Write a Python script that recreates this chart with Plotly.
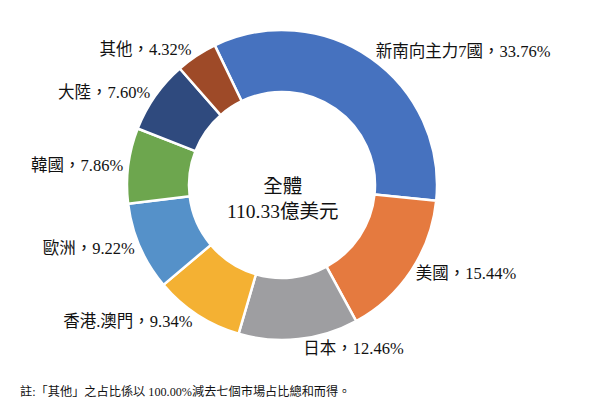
import plotly.graph_objects as go

labels = ["新南向主力7國", "美國", "日本", "香港.澳門", "歐洲", "韓國", "大陸", "其他"]
values = [33.76, 15.44, 12.46, 9.34, 9.22, 7.86, 7.60, 4.32]
colors = ["#4672BF", "#E57A3F", "#9E9EA1", "#F4B133", "#5591C9", "#6DA64E", "#2F4A7E", "#9E4A28"]
center_title = "全體"
center_total = "110.33億美元"
note = "註:「其他」之占比係以 100.00%減去七個市場占比總和而得。"

font_fam = "Liberation Serif, Times New Roman, Noto Sans CJK TC, serif"

W, H = 600, 405
ml, mr, mt, mb = 119, 171, 22, 73
pw, ph = W - ml - mr, H - mt - mb

fig = go.Figure(go.Pie(
    labels=labels,
    values=values,
    sort=False,
    direction="clockwise",
    rotation=-25.7,
    hole=0.6,
    marker=dict(colors=colors, line=dict(color="white", width=2.5)),
    textposition="outside",
    texttemplate="%{label}，%{value:.2f}%",
    textfont=dict(family=font_fam, size=16.5, color="#111111"),
    showlegend=False,
    hoverinfo="label+value",
))

fig.add_annotation(
    x=0.5, y=0.455, xref="paper", yref="paper",
    text=center_title + "<br>" + center_total,
    showarrow=False, align="center",
    font=dict(family=font_fam, size=19.5, color="#111111"),
)
fig.add_annotation(
    x=(10 - ml) / pw, y=(H - mb - 383) / ph, xref="paper", yref="paper",
    xanchor="left", yanchor="middle",
    text=note, showarrow=False,
    font=dict(family=font_fam, size=12.2, color="#111111"),
)

fig.update_layout(
    width=W, height=H,
    margin=dict(l=ml, r=mr, t=mt, b=mb),
    paper_bgcolor="white", plot_bgcolor="white",
)
fig.write_html("out.html")
